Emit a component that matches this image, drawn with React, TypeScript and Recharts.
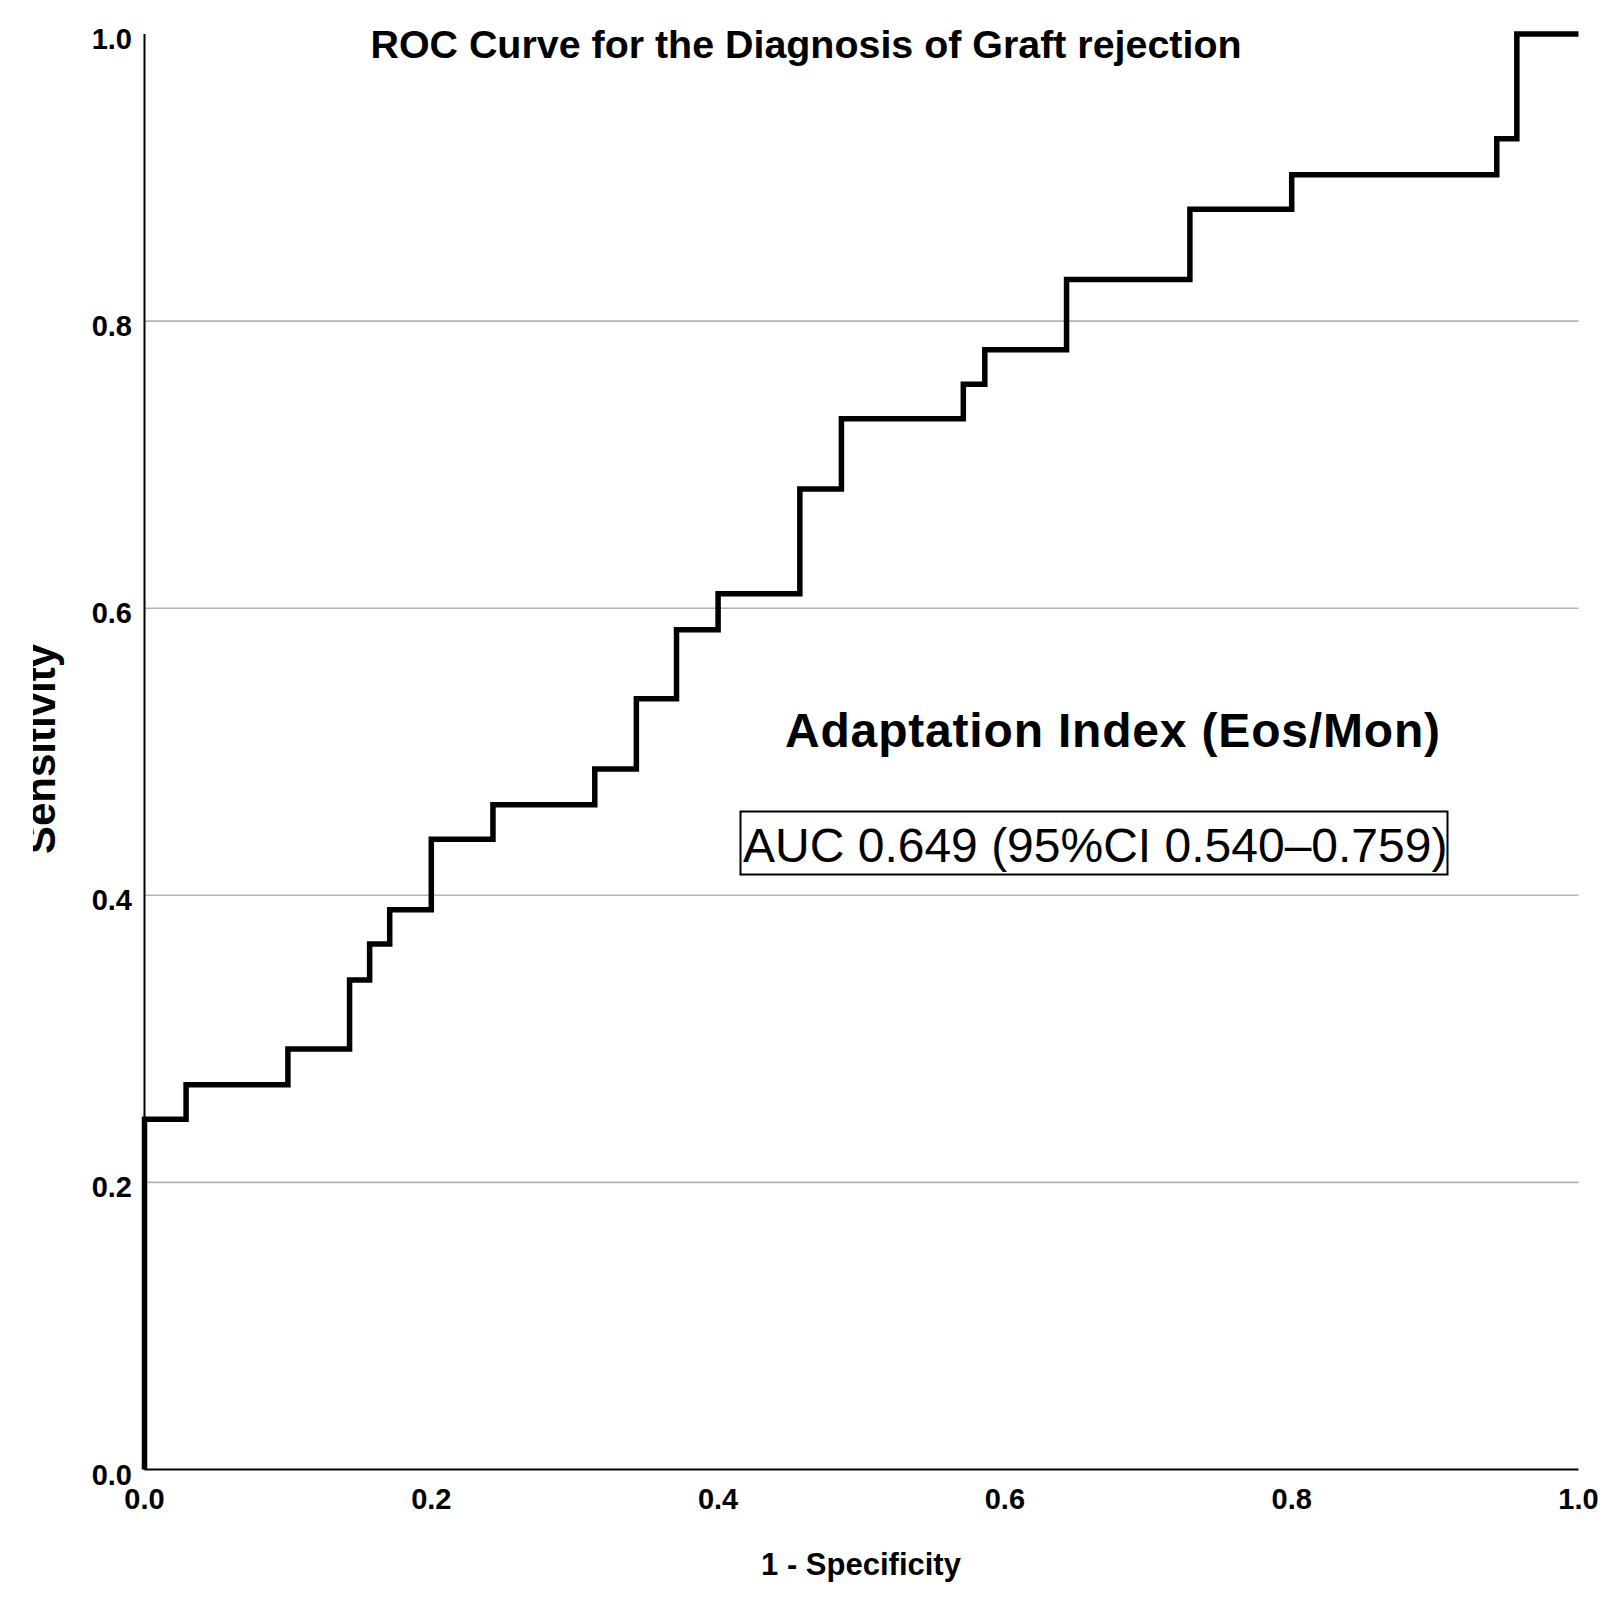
import React from "react";
import { LineChart, Line, XAxis, YAxis, CartesianGrid } from "recharts";

// 1 - Specificity (false positive rate) at the end of each horizontal step
const fpr = [0, 0.029, 0.1, 0.143, 0.157, 0.171, 0.2, 0.243, 0.314, 0.343, 0.371, 0.4, 0.457, 0.486, 0.571, 0.586, 0.643, 0.729, 0.8, 0.943, 0.957, 1.0];
// Sensitivity of each step
const sensitivity = [0, 0.244, 0.268, 0.293, 0.341, 0.366, 0.39, 0.439, 0.463, 0.488, 0.537, 0.585, 0.61, 0.683, 0.732, 0.756, 0.78, 0.829, 0.878, 0.902, 0.927, 1.0];

const axisTicks = [0, 0.2, 0.4, 0.6, 0.8, 1.0];
const gridValues = [0.2, 0.4, 0.6, 0.8];

const titleText = "ROC Curve for the Diagnosis of Graft rejection";
const xLabelText = "1 - Specificity";
const yLabelText = "Sensitivity";
const markerText = "Adaptation Index (Eos/Mon)";
const aucText = "AUC 0.649 (95%CI 0.540\u20130.759)";

const data = fpr.map((x, i) => ({ fpr: x, sens: sensitivity[i] }));

const FONT = "'Liberation Sans', Arial, Helvetica, sans-serif";

const YTick = (props: any) => {
  const { x, y, payload } = props;
  return (
    <text x={x} y={y + 15} textAnchor="end" fontFamily={FONT} fontSize={29} fontWeight="bold" fill="#000">
      {Number(payload.value).toFixed(1)}
    </text>
  );
};

const XTick = (props: any) => {
  const { x, y, payload } = props;
  return (
    <text x={x} y={y + 39.5} textAnchor="middle" fontFamily={FONT} fontSize={29} fontWeight="bold" fill="#000">
      {Number(payload.value).toFixed(1)}
    </text>
  );
};

export default function App() {
  return (
    <div style={{ position: "absolute", left: 0, top: 0, width: 1619, height: 1601, background: "#fff" }}>
      <LineChart
        width={1619}
        height={1601}
        data={data}
        margin={{ top: 34, right: 40.5, left: 0, bottom: 0 }}
      >
        <defs>
          <clipPath id="ylabClip">
            <rect x={33} y={0} width={200} height={1601} />
          </clipPath>
        </defs>
        <CartesianGrid
          vertical={false}
          horizontal={true}
          horizontalValues={gridValues}
          stroke="#b3b3b3"
          strokeWidth={1.6}
        />
        <XAxis
          type="number"
          dataKey="fpr"
          domain={[0, 1]}
          ticks={axisTicks}
          height={131.5}
          tickLine={false}
          tickSize={0}
          tickMargin={0}
          axisLine={{ stroke: "#000", strokeWidth: 2 }}
          tick={<XTick />}
          interval={0}
        />
        <YAxis
          type="number"
          domain={[0, 1]}
          ticks={axisTicks}
          width={144.5}
          tickLine={false}
          tickSize={0}
          tickMargin={12.5}
          axisLine={{ stroke: "#000", strokeWidth: 2 }}
          tick={<YTick />}
          interval={0}
        />
        <Line
          type="stepBefore"
          dataKey="sens"
          stroke="#000"
          strokeWidth={5.5}
          dot={false}
          activeDot={false}
          isAnimationActive={false}
          strokeLinejoin="miter"
          strokeLinecap="butt"
        />
        <text x={806} y={58} textAnchor="middle" fontFamily={FONT} fontSize={39.4} fontWeight="bold" fill="#000">
          {titleText}
        </text>
        <text x={861} y={1575} textAnchor="middle" fontFamily={FONT} fontSize={31} fontWeight="bold" fill="#000">
          {xLabelText}
        </text>
        <g clipPath="url(#ylabClip)">
          <text
            transform="translate(55,749) rotate(-90)"
            x={0}
            y={0}
            textAnchor="middle"
            fontFamily={FONT}
            fontSize={42}
            fontWeight="bold"
            fill="#000"
          >
            {yLabelText}
          </text>
        </g>
        <text
          x={1112.5}
          y={747}
          textAnchor="middle"
          fontFamily={FONT}
          fontSize={48}
          fontWeight="bold"
          fill="#000"
          textLength={655}
          lengthAdjust="spacing"
        >
          {markerText}
        </text>
        <rect x={740.5} y={811.5} width={707} height={63} fill="none" stroke="#000" strokeWidth={2} />
        <text x={743} y={862} textAnchor="start" fontFamily={FONT} fontSize={48} fill="#000">
          {aucText}
        </text>
      </LineChart>
    </div>
  );
}
